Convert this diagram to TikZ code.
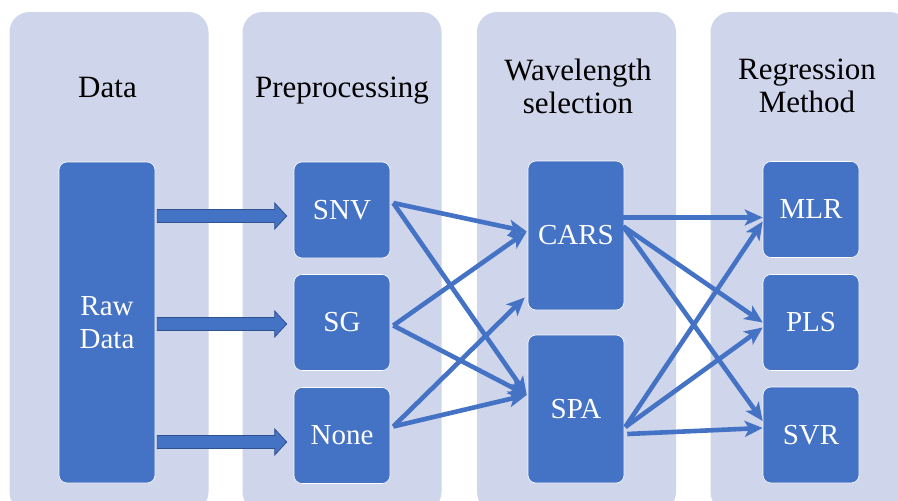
\documentclass[tikz,border=0pt]{standalone}
\usepackage{fontspec}
\setmainfont{Liberation Serif}
\usetikzlibrary{calc,arrows.meta}

\definecolor{panelbg}{HTML}{CFD5EA}
\definecolor{boxblue}{HTML}{4472C4}
\definecolor{edgeblue}{HTML}{2F528F}

\tikzset{
  panel/.style={fill=panelbg, rounded corners=20pt, minimum width=199pt,
    minimum height=500pt, inner sep=0pt},
  heading/.style={font=\fontsize{31}{33}\selectfont, align=center, inner sep=0pt},
  stepbox/.style={fill=boxblue, draw=white, line width=0.6pt, rounded corners=8pt,
    minimum width=96pt, inner sep=0pt, text=white,
    font=\fontsize{29}{33}\selectfont, align=center},
  link/.style={draw=boxblue, line width=4.6pt,
    -{Stealth[length=18pt,width=16pt,inset=4.5pt]}},
  rawlink/.style={fill=boxblue, draw=edgeblue, line width=0.8pt, line join=miter},
}

% block arrow from the first coordinate to the tip at the second (same height)
\newcommand\rawarrow[2]{%
  \path[rawlink] let \p1=(#1), \p2=(#2) in
    (\x1,\y1+6.5pt) -- (\x2-12pt,\y1+6.5pt) -- (\x2-12pt,\y1+13pt) -- (\x2,\y1)
    -- (\x2-12pt,\y1-13pt) -- (\x2-12pt,\y1-6.5pt) -- (\x1,\y1-6.5pt) -- cycle;}

\begin{document}
\begin{tikzpicture}[x=1pt,y=-1pt]
\useasboundingbox (0,0) rectangle (898,501);

% column panels
\begin{scope}
  \clip (0,0) rectangle (898,501);
  \node[panel] (colA) at (109,262) {};
  \node[panel] (colB) at (342,262) {};
  \node[panel] (colC) at (576.5,262) {};
  \node[panel] (colD) at (810,262) {};
\end{scope}

% column headings
\node[heading, anchor=base] (hA) at (107.5,97) {Data};
\node[heading, anchor=base] (hB) at (342,97) {Preprocessing};
\node[heading] (hC) at (578,86) {Wavelength\\selection};
\node[heading] (hD) at (807,86) {Regression\\Method};

% process boxes
\node[stepbox, minimum height=321pt] (raw) at (107,322.5) {Raw\\Data};

\node[stepbox, minimum height=96pt] (snv)  at (342,210)   {SNV};
\node[stepbox, minimum height=96pt] (sg)   at (342,322.5) {SG};
\node[stepbox, minimum height=96pt] (none) at (342,435.5) {None};

\node[stepbox, minimum height=149pt] (cars) at (576,235.5) {CARS};
\node[stepbox, minimum height=148pt] (spa)  at (576,409)   {SPA};

\node[stepbox, minimum height=96pt] (mlr) at (811,209.5) {MLR};
\node[stepbox, minimum height=96pt] (pls) at (811,322.5) {PLS};
\node[stepbox, minimum height=96pt] (svr) at (811,435)   {SVR};

% raw data to preprocessing
\coordinate (rA) at ($(raw.east |- snv)+(2,6)$);
\coordinate (rB) at ($(raw.east |- sg)+(2,1.5)$);
\coordinate (rC) at ($(raw.east |- none)+(2,6.5)$);
\coordinate (pA) at ($(snv.west)+(-7,6)$);
\coordinate (pB) at ($(sg.west)+(-7,1.5)$);
\coordinate (pC) at ($(none.west)+(-7,6.5)$);
\rawarrow{rA}{pA}
\rawarrow{rB}{pB}
\rawarrow{rC}{pC}

% preprocessing to wavelength selection
\coordinate (s1) at ($(snv.east)+(3,-7)$);
\coordinate (s2) at ($(sg.east)+(3,3)$);
\coordinate (s3) at ($(none.east)+(3,-9)$);
\coordinate (e1) at ($(cars.west)+(-1,-4)$);
\coordinate (e2) at ($(cars.west)+(-3,62)$);
\coordinate (e3) at ($(spa.west)+(-1,-14)$);
\draw[link] (s1) -- (e1);
\draw[link] (s1) -- (e3);
\draw[link] (s2) -- (e1);
\draw[link] (s2) -- (e3);
\draw[link] (s3) -- (e2);
\draw[link] (s3) -- (e3);

% wavelength selection to regression method
\coordinate (t1) at ($(cars.east)+(-1,-18)$);
\coordinate (t2) at ($(cars.east)+(-1,-9)$);
\coordinate (t3) at ($(spa.east)+(1,18)$);
\coordinate (t4) at ($(spa.east)+(3,25)$);
\coordinate (f1)  at ($(mlr.west)+(0,8)$);
\coordinate (f1b) at ($(mlr.west)+(0,12)$);
\coordinate (f2)  at ($(pls.west)+(0,0)$);
\coordinate (f2b) at ($(pls.west)+(0,5)$);
\coordinate (f3)  at ($(svr.west)+(0,-14)$);
\coordinate (f3b) at ($(svr.west)+(0,-7)$);
\draw[link] (t1) -- (f1);
\draw[link] (t2) -- (f2);
\draw[link] (t2) -- (f3);
\draw[link] (t3) -- (f1b);
\draw[link] (t3) -- (f2b);
\draw[link] (t4) -- (f3b);
\end{tikzpicture}
\end{document}
